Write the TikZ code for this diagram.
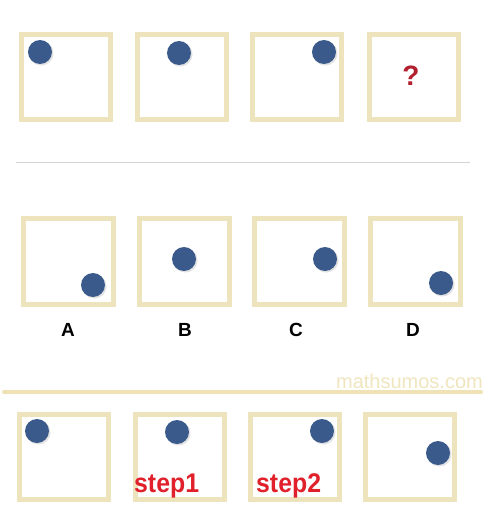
\documentclass[tikz,border=0pt]{standalone}
\usepackage{fontspec}
\setmainfont{Liberation Sans}
\usetikzlibrary{shadows}
\definecolor{boxtan}{HTML}{EDE3BD}
\definecolor{linetan}{HTML}{EEE2B6}
\definecolor{marktan}{HTML}{EFE6BF}
\definecolor{dotblue}{HTML}{3A5A8C}
\definecolor{qred}{HTML}{B22030}
\definecolor{stepred}{HTML}{E0202A}
\definecolor{rulegrey}{HTML}{D2D2D2}
\tikzset{
  frame/.style={draw=boxtan, line width=5pt, fill=white, minimum width=89pt, minimum height=85pt, inner sep=0pt},
  dot/.style={circle, fill=dotblue, minimum size=24pt, inner sep=0pt,
    drop shadow={opacity=0.22, shadow xshift=1.3pt, shadow yshift=-1.3pt, shadow scale=1.02}},
  letter/.style={font=\bfseries\fontsize{19}{19}\selectfont, inner sep=0pt},
  steptext/.style={font=\bfseries\fontsize{27}{27}\selectfont, text=stepred, inner sep=0pt, anchor=base west, xscale=0.92},
}
\begin{document}
\begin{tikzpicture}[x=1pt,y=-1pt]
\useasboundingbox[fill=white] (0,0) rectangle (484,525);
% row 1
\node[frame] (t1) at (66,77) {};
\node[frame] (t2) at (182,77) {};
\node[frame] (t3) at (297,77) {};
\node[frame] (t4) at (413.5,77) {};
\node[dot] (td1) at (40,52) {};
\node[dot] (td2) at (179,53) {};
\node[dot] (td3) at (324,52) {};
\node[font=\bfseries\fontsize{28}{28}\selectfont, text=qred, inner sep=0pt] (q) at (411,76) {?};
% grey rule
\coordinate (g1) at (16,162);
\coordinate (g2) at (470,162);
\draw[rulegrey, line width=1pt] (g1) -- (g2);
% row 2
\node[frame, minimum width=90pt, minimum height=86pt] (a) at (68.5,261.5) {};
\node[frame, minimum width=90pt, minimum height=86pt] (b) at (184.5,261.5) {};
\node[frame, minimum width=90pt, minimum height=86pt] (c) at (299.5,261.5) {};
\node[frame, minimum width=90pt, minimum height=86pt] (d) at (415.5,261.5) {};
\node[dot] (ad) at (93,285) {};
\node[dot] (bd) at (184,259) {};
\node[dot] (cd) at (325,259) {};
\node[dot] (dd) at (441,283) {};
\node[letter] (la) at (68,330) {A};
\node[letter] (lb) at (185,330) {B};
\node[letter] (lc) at (296,330) {C};
\node[letter] (ld) at (413,330) {D};
% tan rule and watermark
\coordinate (r1) at (4,392);
\coordinate (r2) at (481,392);
\draw[linetan, line width=4pt, line cap=round] (r1) -- (r2);
\node[font=\fontsize{20}{20}\selectfont, text=marktan, inner sep=0pt, anchor=east] (wm) at (483,381) {mathsumos.com};
% row 3
\node[frame] (s1) at (63.5,457) {};
\node[frame] (s2) at (179.5,457) {};
\node[frame] (s3) at (294.5,457) {};
\node[frame] (s4) at (410,457) {};
\node[dot] (sd1) at (37,431) {};
\node[dot] (sd2) at (177,432) {};
\node[dot] (sd3) at (322,431) {};
\node[dot] (sd4) at (438,453) {};
\node[steptext] (st1) at (134,492) {step1};
\node[steptext] (st2) at (256,492) {step2};
\end{tikzpicture}
\end{document}
